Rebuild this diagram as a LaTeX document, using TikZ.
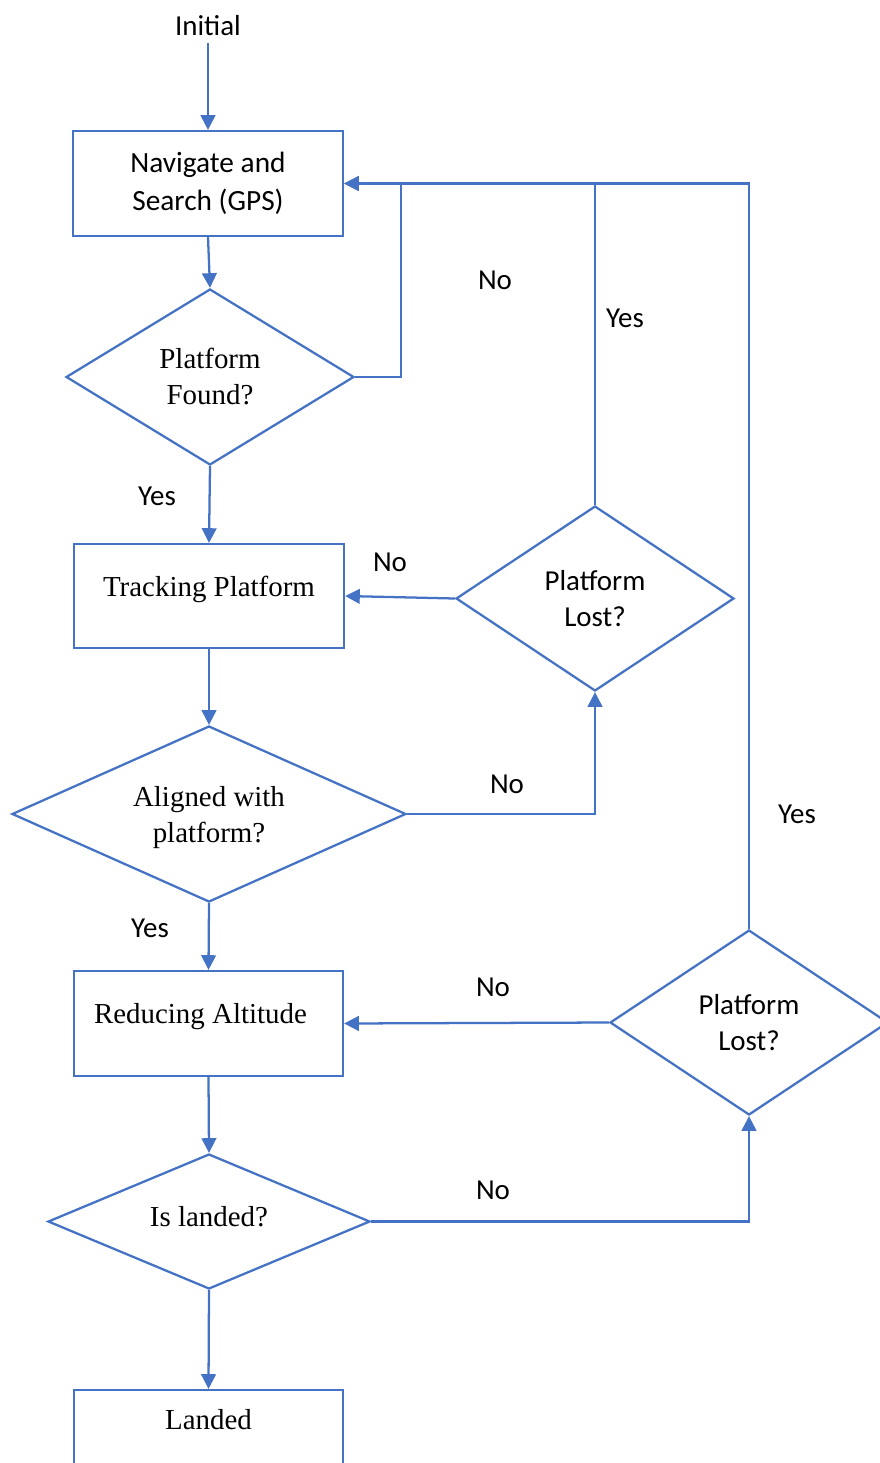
\documentclass[tikz,border=0pt]{standalone}
\usepackage{fontspec}
\setmainfont{Liberation Serif}
\newfontfamily\calib{Carlito}
\usetikzlibrary{shapes.geometric,arrows.meta}
\definecolor{fcblue}{HTML}{4472C4}
\begin{document}
\begin{tikzpicture}[x=0.75pt,y=-0.75pt,
  every node/.style={inner sep=0pt},
  sansfont/.style={font=\calib\fontsize{21.7}{27.5}\selectfont},
  seriffont/.style={font=\fontsize{21.7}{27}\selectfont},
  procbox/.style={draw=fcblue,line width=1.7pt,rectangle,align=center},
  decbox/.style={draw=fcblue,line width=1.7pt,diamond,align=center},
  conn/.style={draw=fcblue,line width=1.7pt},
  arr/.style={conn,-{Triangle[length=11pt,width=11pt]}},
  lbl/.style={sansfont}]
\useasboundingbox (0,0) rectangle (880,1463);
\clip (0,0) rectangle (880,1463);
\node[lbl] (init) at (208,26) {Initial};
\node[procbox,font=\calib\fontsize{22}{28.5}\selectfont,minimum width=202.5pt,minimum height=78.75pt] (b1) at (208,183.5) {Navigate and\\Search (GPS)};
\node[decbox,seriffont,shape aspect=1.64,minimum width=216pt,minimum height=132pt] (d1) at (210,377) {Platform\\Found?};
\node[procbox,minimum width=202.5pt,minimum height=78pt,label={[seriffont,yshift=5pt]center:Tracking Platform}] (b2) at (209,596) {};
\node[decbox,minimum width=295.5pt,minimum height=132pt,label={[seriffont,align=center,yshift=-3pt]center:Aligned with\\platform?}] (d2) at (209,814) {};
\node[decbox,sansfont,shape aspect=1.5,minimum width=208.5pt,minimum height=138.75pt] (d3) at (595,598.5) {Platform\\Lost?};
\node[procbox,minimum width=201.75pt,minimum height=78.75pt,label={[seriffont,xshift=-6pt,yshift=5pt]center:Reducing Altitude}] (b3) at (208.5,1023.5) {};
\node[decbox,minimum width=241.5pt,minimum height=101.25pt,label={[seriffont,yshift=3.5pt]center:Is landed?}] (d4) at (209,1221.5) {};
\node[decbox,sansfont,shape aspect=1.5,minimum width=208.5pt,minimum height=138.75pt] (d5) at (749,1022.5) {Platform\\Lost?};
\node[procbox,minimum width=201.75pt,minimum height=78.75pt,label={[seriffont,anchor=north,yshift=-15pt]north:Landed}] (b4) at (208.5,1442.5) {};
% connectors
\draw[arr] (init.south) ++(0,7) -- (b1.north);
\draw[arr] (b1.south) -- (d1.north);
\draw[arr] (d1.east) -- (401,377) |- (b1.east);
\draw[arr] (d1.south) -- (b2.north);
\draw[arr] (b2.south) -- (d2.north);
\draw[arr] (d2.east) -| (d3.south);
\draw[arr] (d3.west) -- (b2.east);
\draw[conn] (d3.north) -- (595,183.5);
\draw[arr] (d2.south) -- (b3.north);
\draw[arr] (b3.south) -- (d4.north);
\draw[arr] (d4.east) -| (d5.south);
\draw[arr] (d5.west) -- (b3.east);
\draw[arr] (d5.north) |- (b1.east);
\draw[arr] (d4.south) -- (b4.north);
% labels
\node[lbl] (l1) at (495,280) {No};
\node[lbl] (l2) at (625,318) {Yes};
\node[lbl] (l3) at (157,496) {Yes};
\node[lbl] (l4) at (390,562) {No};
\node[lbl] (l5) at (507,784) {No};
\node[lbl] (l6) at (150,928) {Yes};
\node[lbl] (l7) at (493,987) {No};
\node[lbl] (l8) at (797,814) {Yes};
\node[lbl] (l9) at (493,1190) {No};
\end{tikzpicture}
\end{document}
